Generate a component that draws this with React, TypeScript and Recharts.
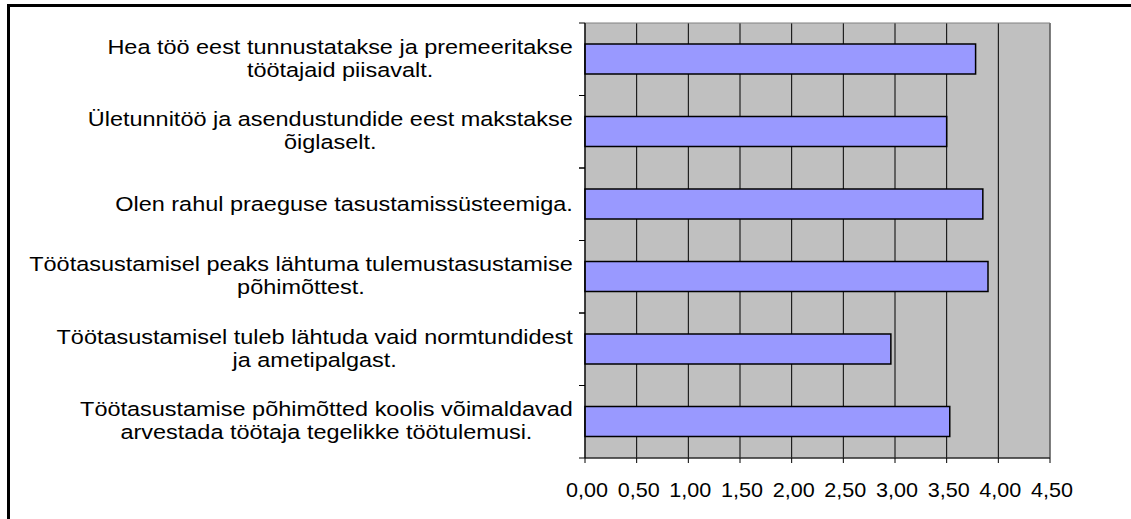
import { Bar, BarChart, CartesianGrid, ReferenceArea, XAxis, YAxis } from 'recharts';

const CATEGORIES = [
  'Hea töö eest tunnustatakse ja premeeritakse\ntöötajaid piisavalt.',
  'Ületunnitöö ja asendustundide eest makstakse\nõiglaselt.',
  'Olen rahul praeguse tasustamissüsteemiga.',
  'Töötasustamisel peaks lähtuma tulemustasustamise\npõhimõttest.',
  'Töötasustamisel tuleb lähtuda vaid normtundidest\nja ametipalgast.',
  'Töötasustamise põhimõtted koolis võimaldavad\narvestada töötaja tegelikke töötulemusi.',
];
const SCORES = [3.78, 3.5, 3.85, 3.9, 2.96, 3.53];
const X_TICKS = [0, 0.5, 1, 1.5, 2, 2.5, 3, 3.5, 4, 4.5];

const data = CATEGORIES.map((name, i) => ({ name, value: SCORES[i] }));

const FONT = '"Liberation Sans", Arial, sans-serif';
const FONT_SIZE = 20.5;
const SX = 1.145; // the original text is drawn a bit wider than Arial
const LINE_H = 23;
const TICK_SIZE = 5;
const TICK_MARGIN = 7;

let ctx: CanvasRenderingContext2D | null = null;
function measure(s: string) {
  if (!ctx) {
    ctx = document.createElement('canvas').getContext('2d');
  }
  if (!ctx) return s.length * 10;
  ctx.font = `${FONT_SIZE}px "Liberation Sans"`;
  return ctx.measureText(s).width * SX;
}

function CategoryTick(props: any) {
  const { x, y, payload, height } = props;
  const lines: string[] = String(payload.value).split('\n');
  const blockW = Math.max(...lines.map(measure));
  const cx = x - blockW / 2;
  const axisX = x + TICK_MARGIN + TICK_SIZE;
  const half = (height ?? 435) / CATEGORIES.length / 2;
  const base = y + 7 - ((lines.length - 1) * LINE_H) / 2 - (lines.length > 1 ? 1 : 0);
  return (
    <g>
      <line x1={axisX - 6} x2={axisX} y1={y - half} y2={y - half} stroke="#000" />
      <line x1={axisX - 6} x2={axisX} y1={y + half} y2={y + half} stroke="#000" />
      <g transform={`translate(${cx},0) scale(${SX},1)`}>
        <text x={0} y={base} textAnchor="middle" fontFamily={FONT} fontSize={FONT_SIZE} fill="#000">
          {lines.map((l, i) => (
            <tspan key={i} x={0} y={base + i * LINE_H}>
              {l}
            </tspan>
          ))}
        </text>
      </g>
    </g>
  );
}

function ValueTick(props: any) {
  const { x, y, payload } = props;
  return (
    <g transform={`translate(${x + 2},0) scale(1.08,1)`}>
      <text x={0} y={y + 26} textAnchor="middle" fontFamily={FONT} fontSize={20} fill="#000">
        {Number(payload.value).toFixed(2).replace('.', ',')}
      </text>
    </g>
  );
}

export default function App() {
  return (
    <div style={{ position: 'absolute', left: 0, top: 0, width: 1131, height: 519, background: '#fff', overflow: 'hidden' }}>
      <div
        style={{
          position: 'absolute',
          left: 7,
          top: 4,
          width: 1200,
          height: 600,
          borderTop: '3px solid #000',
          borderLeft: '3px solid #000',
        }}
      />
      <div style={{ position: 'absolute', left: 0, top: 0 }}>
        <BarChart
          width={1131}
          height={519}
          data={data}
          layout="vertical"
          margin={{ top: 23, right: 81, bottom: 21, left: 0 }}
        >
          <CartesianGrid horizontal={false} vertical stroke="#000" fill="#C0C0C0" fillOpacity={1} />
          <ReferenceArea x1={0} x2={4.5} fill="none" stroke="#808080" strokeWidth={1} ifOverflow="extendDomain" />
          <XAxis
            type="number"
            domain={[0, 4.5]}
            ticks={X_TICKS}
            interval={0}
            height={40}
            tickSize={5}
            tickMargin={8}
            stroke="#000"
            tick={<ValueTick />}
          />
          <YAxis
            type="category"
            dataKey="name"
            width={585}
            interval={0}
            tickLine={false}
            tickSize={TICK_SIZE}
            tickMargin={TICK_MARGIN}
            stroke="#000"
            tick={<CategoryTick />}
          />
          <Bar dataKey="value" fill="#9999FF" stroke="#000" strokeWidth={1.5} barSize={30} isAnimationActive={false} />
        </BarChart>
      </div>
    </div>
  );
}
